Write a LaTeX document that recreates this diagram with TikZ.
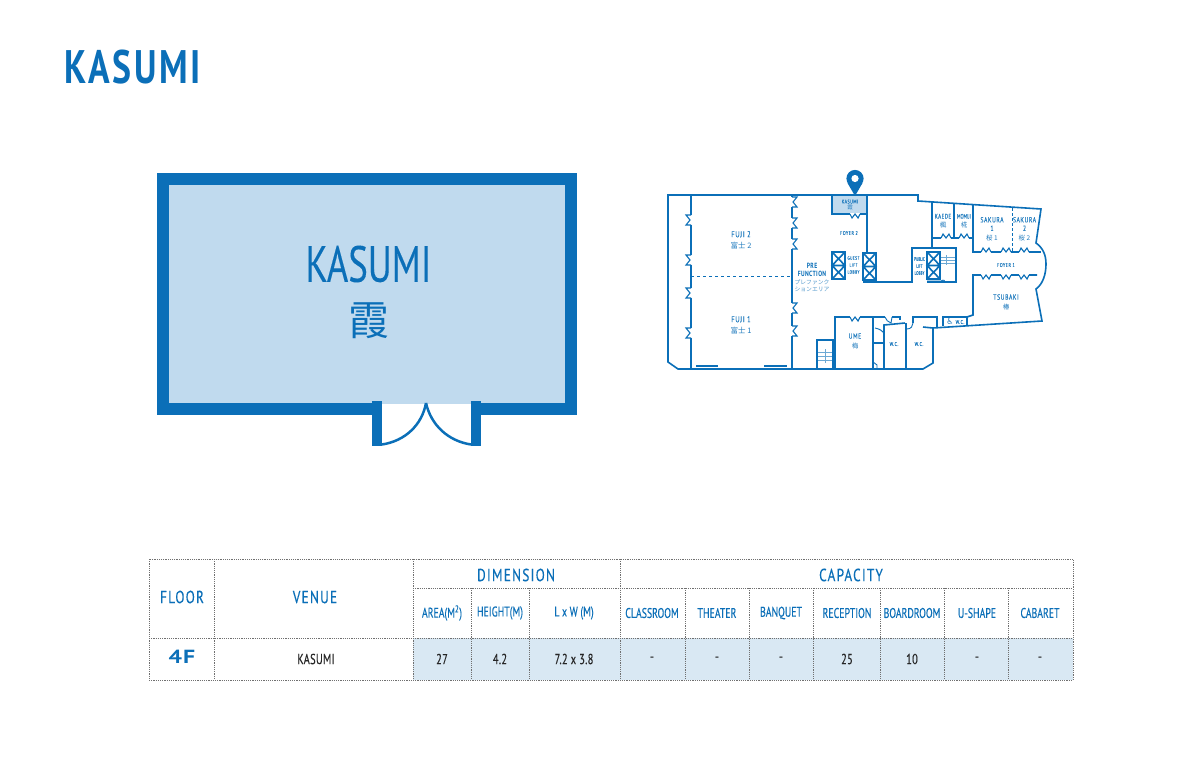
\documentclass[tikz,border=0pt]{standalone}
\usepackage{fontspec}
\setmainfont[FakeStretch=0.72,FakeBold=0.15]{PT Sans}
\newfontfamily\cjk{Noto Sans CJK JP}
\newfontfamily\titlefont[FakeStretch=0.76,LetterSpace=5.5]{PT Sans Bold}
\newfontfamily\spacedfont[FakeStretch=0.76,LetterSpace=7,FakeBold=0.2]{PT Sans}
\newfontfamily\smallhead[FakeStretch=0.7,FakeBold=0.2]{PT Sans}
\newfontfamily\cellfont[FakeStretch=0.72,LetterSpace=2,FakeBold=0.2]{PT Sans}
\newfontfamily\planfont[FakeStretch=0.76,LetterSpace=8,FakeBold=0.08]{PT Sans}
\newfontfamily\tightplan[FakeStretch=0.68,FakeBold=0.05]{PT Sans}
\newfontfamily\widebold[FakeStretch=1.25,LetterSpace=6]{PT Sans Bold}
\newfontfamily\symbolfont{DejaVu Sans}
\usepackage{xcolor}
\definecolor{hotelblue}{HTML}{0B6FB8}
\definecolor{roomfill}{HTML}{C0DAEE}
\definecolor{cellfill}{HTML}{D9E8F3}
\definecolor{gridgray}{HTML}{707070}
\tikzset{
    plan/.style={draw=hotelblue, line width=1.6, line join=miter},
    thinplan/.style={draw=hotelblue!60, line width=.8},
    grid/.style={draw=gridgray, line width=0.8, dash pattern=on 1.2pt off 1pt},
    headbig/.style={text=hotelblue, font=\spacedfont\fontsize{17.5}{18}\selectfont},
    headsmall/.style={text=hotelblue, font=\smallhead\fontsize{14}{14}\selectfont},
    celltext/.style={text=black!85, font=\cellfont\fontsize{14.5}{15}\selectfont},
    planlabel/.style={text=hotelblue!90, font=\planfont\fontsize{7.5}{8.5}\selectfont, align=center, inner sep=0},
    tinylabel/.style={planlabel, font=\planfont\fontsize{5.5}{6.5}\selectfont},
    accordv/.pic={
        \draw [white, line width=2.5] (0,-5) -- (0,5);
        \draw [plan, line width=1.1] (0,-5) -- (-5,-5) -- (-1,0) -- (-5,5) -- (0,5);
    },
    accordh/.pic={
        \draw [white, line width=2.5] (-5,0) -- (5,0);
        \draw [plan, line width=1.1] (-5,0) -- (-3,-4) -- (0,0) -- (3,-4) -- (5,0);
    },
    liftbox/.pic={
        \draw [plan] (0,0) rectangle (13,27);
        \draw [plan] (0,0) -- (13,13.5) -- (0,27) (13,0) -- (0,13.5) -- (13,27) (0,13.5) -- (13,13.5);
    }
}
\begin{document}
\begin{tikzpicture}[x=1pt, y=-1pt]
    \useasboundingbox (0,0) rectangle (1200,766);
    \fill [white] (0,0) rectangle (1200,766);

    % Title
    \node [text=hotelblue, font=\titlefont\fontsize{47}{47}\selectfont, anchor=west, inner sep=0] (title) at (64.5,67) {KASUMI};

    % Room
    \fill [roomfill] (163,179) rectangle (571,404);
    \draw [hotelblue, line width=12] (372,408.5) -- (163,408.5) -- (163,179) -- (571,179) -- (571,408.5) -- (481,408.5);
    \fill [hotelblue] (372,401) rectangle (382,446);
    \fill [hotelblue] (471,401) rectangle (481,446);
    \draw [hotelblue, line width=2.5] (382,444.5) .. controls (405,441) and (422,425) .. (426,403);
    \draw [hotelblue, line width=2.5] (471,444.5) .. controls (448,441) and (431,425) .. (426,403);
    \node [text=hotelblue, font=\fontsize{51}{51}\selectfont, inner sep=0] (roomname) at (368.5,264) {KASUMI};
    \node [text=hotelblue, font=\cjk\fontsize{41}{41}\selectfont, inner sep=0] (roomkanji) at (369,321) {霞};

    % Floor plan walls
    \fill [roomfill] (832,196) rectangle (867,214);
    \draw [plan] (668,195) -- (918,195) -- (918,201) -- (1041,209) -- (1036,243)
        .. controls (1043,248) and (1046,255) .. (1046,264)
        .. controls (1046,274) and (1043,284) .. (1036,289) -- (1042,321) -- (933,328)
        -- (933,363) -- (923,369) -- (678,369) -- (668,362) -- cycle;
    \draw [plan] (691,195) -- (691,369);
    \draw [plan] (792,195) -- (792,369);
    \draw [plan, dashed, line width=.8] (691,276) -- (792,276);
    \draw [plan] (696,366) -- (718,366) (764,366) -- (787,366);
    \draw [plan] (832,195) -- (832,214) -- (867,214);
    \draw [plan] (867,195) -- (867,252);
    \draw [plan] (863,282) -- (912,282) -- (912,248) -- (956,248) -- (956,282) -- (927,282);
    \draw [plan] (932,202) -- (932,248);
    \draw [plan] (954,203) -- (954,238);
    \draw [plan] (932,238) -- (973,238);
    \draw [plan] (973,205) -- (973,252) -- (1041,252);
    \draw [plan, densely dashed, line width=.8] (1012,208) -- (1012,252);
    \draw [plan] (1037,275) -- (973,275) -- (973,315) -- (967,317);
    \draw [plan] (833,369) -- (833,340) -- (817,340) -- (817,369);
    \draw [plan] (835,369) -- (835,317) -- (885,317);
    \draw [plan] (873,317) -- (873,369) (873,343) -- (884,343);
    \draw [plan] (884,369) -- (884,325) -- (905,323) (906,369) -- (906,323);
    \draw [plan] (892,317) -- (900,317) -- (900,320);
    \draw [plan] (913,323) -- (913,317) -- (937,317) -- (937,327);
    \draw [plan] (923,327) -- (933,328);
    \draw [plan] (943,326) -- (943,317) -- (967,317) -- (967,325);

    % Door swings and stairs
    \draw [plan, line width=.9] (875,328) .. controls (880,329) and (883,331) .. (884,334);
    \draw [plan, line width=.9] (873,362) -- (877,365) -- (877,368);
    \draw [plan, line width=.9] (885,317) .. controls (886,320) and (888,322) .. (891,323) -- (892,317);
    \draw [plan, line width=.9] (907,329) .. controls (911,329) and (913,326) .. (913,323);
    \draw [plan, line width=.9] (927,281) -- (941,281) .. controls (944,279) and (945,281) .. (945,282);
    \foreach \yy in {352,356,360} \draw [thinplan] (818,\yy) -- (832,\yy);
    \draw [thinplan] (825,349) -- (825,363);
    \foreach \yy in {257,260,263} \draw [thinplan] (941,\yy) -- (955,\yy);
    \draw [thinplan] (946,255) -- (946,265);

    % Lifts
    \pic at (832,252) {liftbox};
    \pic at (863,253) {liftbox};
    \pic at (927,252) {liftbox};

    % Folding doors
    \foreach \yy in {220,260,293,333} \pic at (691,\yy) {accordv};
    \foreach \yy in {202,223,244,308,331} \pic [xscale=-1] at (792,\yy) {accordv};
    \foreach \xx in {946,964} \pic at (\xx,238) {accordh};
    \foreach \xx in {986,1006,1024} \pic at (\xx,252) {accordh};
    \foreach \xx in {986,1006,1024} \pic [yscale=-1] at (\xx,275) {accordh};
    \pic [yscale=-1] at (855,317) {accordh};
    \pic [yscale=-1] at (855,214) {accordh};

    % Floor plan labels
    \node [planlabel, font=\planfont\fontsize{8.5}{10}\selectfont] (fujitwo) at (741,240) {FUJI 2\\[1pt]{\cjk\fontsize{7.5}{9}\selectfont 富士 2}};
    \node [planlabel, font=\planfont\fontsize{8.5}{10}\selectfont] (fujione) at (741,325) {FUJI 1\\[1pt]{\cjk\fontsize{7.5}{9}\selectfont 富士 1}};
    \node [planlabel, text=hotelblue, font=\titlefont\fontsize{7.5}{8.5}\selectfont] (prefunction) at (812,270) {PRE\\FUNCTION};
    \node [planlabel, font=\cjk\fontsize{5.8}{7}\selectfont, text=hotelblue!70] (prefunctionjp) at (812,286) {プレファンク\\ションエリア};
    \node [tinylabel] (kasumismall) at (850,205) {KASUMI\\{\cjk 霞}};
    \node [tinylabel] (foyertwo) at (849,233) {FOYER 2};
    \node [tinylabel, font=\planfont\fontsize{4.8}{7}\selectfont] (guestlift) at (853.5,265) {GUEST\\LIFT\\LOBBY};
    \node [tinylabel, font=\tightplan\fontsize{5}{7}\selectfont] (publiclift) at (919.5,266) {PUBLIC\\LIFT\\LOBBY};
    \node [planlabel, font=\planfont\fontsize{6.5}{8}\selectfont] (kaede) at (943,221) {KAEDE\\[1pt]{\cjk 楓}};
    \node [planlabel, font=\tightplan\fontsize{6.5}{8}\selectfont] (momiji) at (964,221) {MOMIJI\\[1pt]{\cjk 椛}};
    \node [planlabel] (sakuraone) at (992,229) {SAKURA\\1\\[1pt]{\cjk\fontsize{6.5}{8}\selectfont 桜 1}};
    \node [planlabel] (sakuratwo) at (1024.5,229) {SAKURA\\2\\[1pt]{\cjk\fontsize{6.5}{8}\selectfont 桜 2}};
    \node [tinylabel] (foyerone) at (1006,265) {FOYER 1};
    \node [planlabel] (tsubaki) at (1006,302) {TSUBAKI\\[1pt]{\cjk\fontsize{6.5}{8}\selectfont 椿}};
    \node [planlabel] (ume) at (855,341) {UME\\[1pt]{\cjk\fontsize{6.5}{8}\selectfont 梅}};
    \node [tinylabel] (wcone) at (894,344) {W.C.};
    \node [tinylabel] (wctwo) at (919,344) {W.C.};
    \node [tinylabel] (wcthree) at (960,322) {W.C.};
    \node [text=hotelblue, font=\symbolfont\fontsize{8}{8}\selectfont, inner sep=0] (wheelchair) at (950,322) {♿};

    % Pin
    \fill [hotelblue] (855,196) -- (847.5,183) -- (862.5,183) -- cycle;
    \fill [hotelblue] (855,178.5) circle (8.6);
    \fill [white] (855,178.5) circle (3.6);

    % Table fill
    \fill [cellfill] (413,638) rectangle (1073,680);

    % Table grid
    \draw [grid] (149,559) rectangle (1073,680);
    \draw [grid] (149,638) -- (1073,638);
    \draw [grid] (413,588) -- (1073,588);
    \foreach \xx in {214,413,620} \draw [grid] (\xx,559) -- (\xx,680);
    \foreach \xx in {471,529,685,749,813,880,944,1008} \draw [grid] (\xx,588) -- (\xx,680);

    % Table text
    \node [headbig] (floorhead) at (182,597) {FLOOR};
    \node [headbig] (venuehead) at (315,597) {VENUE};
    \node [headbig] (dimhead) at (516,575) {DIMENSION};
    \node [headbig] (caphead) at (851,575) {CAPACITY};
    \foreach \xx/\tt [count=\i] in {442/{AREA(M\textsuperscript{2})},500/HEIGHT(M),574/L x W (M),652/CLASSROOM,717/THEATER,781/BANQUET,847/RECEPTION,912/BOARDROOM,977/U-SHAPE,1040/CABARET}
        \node [headsmall] (sub\i) at (\xx,613) {\tt};
    \node [text=hotelblue, font=\widebold\fontsize{19}{19}\selectfont] (floorval) at (182,657) {4F};
    \node [celltext] (venueval) at (316,659) {KASUMI};
    \foreach \xx/\tt [count=\i] in {442/27,500/4.2,574/7.2 x 3.8,652/-,717/-,781/-,847/25,912/10,977/-,1040/-}
        \node [celltext] (val\i) at (\xx,659) {\tt};
\end{tikzpicture}
\end{document}
